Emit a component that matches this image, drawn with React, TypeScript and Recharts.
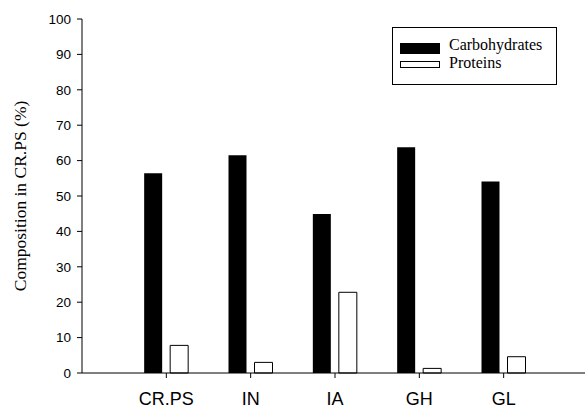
import React from 'react';
import { BarChart, Bar, XAxis, YAxis } from 'recharts';

const categories = ['CR.PS', 'IN', 'IA', 'GH', 'GL'];
const carbohydrates = [56.4, 61.5, 44.9, 63.8, 54.1];
const proteins = [7.8, 3.0, 22.8, 1.3, 4.6];
const yTicks = [0, 10, 20, 30, 40, 50, 60, 70, 80, 90, 100];
const seriesNames = ['Carbohydrates', 'Proteins'];

const chartData = categories.map((name, i) => ({
  pos: i + 1,
  name,
  Carbohydrates: carbohydrates[i],
  Proteins: proteins[i],
}));

const sans = '"Liberation Sans", Arial, sans-serif';
const serif = '"Liberation Serif", "Times New Roman", serif';

const YLabel = (props: any) => {
  const vb = props.viewBox || { y: 19, height: 354 };
  const cy = vb.y + vb.height / 2;
  return (
    <text
      x={20}
      y={cy}
      transform={`rotate(-90 20 ${cy})`}
      textAnchor="middle"
      dominantBaseline="central"
      fontFamily={serif}
      fontSize={17.5}
      fill="#000"
    >
      Composition in CR.PS (%)
    </text>
  );
};

// legend drawn as an overlay box, like the original figure
const LegendBox = () => (
  <div
    style={{
      position: 'absolute',
      left: 392,
      top: 27,
      width: 165,
      height: 58,
      border: '1px solid #000',
      boxSizing: 'border-box',
      background: '#fff',
      fontFamily: serif,
      fontSize: 16,
      color: '#000',
    }}
  >
    <div style={{ position: 'absolute', left: 7, top: 15, width: 40, height: 11, background: '#000' }} />
    <div style={{ position: 'absolute', left: 56, top: 7.6, lineHeight: '18px', whiteSpace: 'nowrap' }}>{seriesNames[0]}</div>
    <div style={{ position: 'absolute', left: 7, top: 33, width: 40, height: 7, border: '1px solid #000', boxSizing: 'border-box' }} />
    <div style={{ position: 'absolute', left: 56, top: 25.6, lineHeight: '18px', whiteSpace: 'nowrap' }}>{seriesNames[1]}</div>
  </div>
);

export default function App() {
  return (
    <div style={{ position: 'absolute', left: 0, top: 0, width: 585, height: 409, overflow: 'hidden', background: '#fff' }}>
      <BarChart
        width={585}
        height={409}
        data={chartData}
        margin={{ top: 19, right: -3, left: 0, bottom: 0 }}
        barSize={18}
        barGap={8}
      >
        <XAxis
          dataKey="pos"
          type="number"
          domain={[0, 6]}
          ticks={[1, 2, 3, 4, 5]}
          interval={0}
          tickFormatter={(v: number) => categories[v - 1] ?? ''}
          height={36}
          tickSize={5}
          tickMargin={14}
          stroke="#000"
          tick={{ fill: '#000', fontSize: 18, fontFamily: sans }}
          allowDataOverflow
        />
        <YAxis
          type="number"
          domain={[0, 100]}
          ticks={yTicks}
          interval={0}
          width={82}
          tickSize={5}
          tickMargin={6}
          stroke="#000"
          tick={{ fill: '#000', fontSize: 13.5, fontFamily: sans }}
          label={<YLabel />}
        />
        <Bar dataKey="Carbohydrates" fill="#000" isAnimationActive={false} />
        <Bar dataKey="Proteins" fill="#fff" stroke="#000" strokeWidth={1} isAnimationActive={false} />
      </BarChart>
      <LegendBox />
    </div>
  );
}
